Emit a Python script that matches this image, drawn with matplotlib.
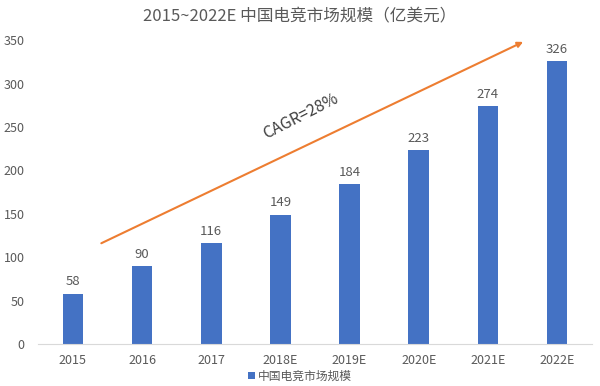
import matplotlib
matplotlib.use("Agg")
import matplotlib.pyplot as plt

plt.rcParams['font.family'] = ['Noto Sans CJK SC', 'DejaVu Sans']

categories = ["2015", "2016", "2017", "2018E", "2019E", "2020E", "2021E", "2022E"]
values = [58, 90, 116, 149, 184, 223, 274, 326]
title = "2015~2022E 中国电竞市场规模（亿美元）"
series_name = "中国电竞市场规模"
cagr_label = "CAGR=28%"

bar_color = "#4472C4"
arrow_color = "#ED7D31"
text_color = "#595959"

fig = plt.figure(figsize=(6, 3.86), dpi=100)
ax = fig.add_axes([0.064, 0.109, 0.922, 0.787])
x = list(range(len(categories)))
bars = ax.bar(x, values, width=0.3, color=bar_color, label=series_name, zorder=2)
for xi, v in zip(x, values):
    ax.text(xi, v + 6, str(v), ha='center', va='bottom', fontsize=9.5, color=text_color)

ax.set_xlim(-0.5, len(categories) - 0.5)
ax.set_ylim(0, 350)
ax.set_yticks(range(0, 351, 50))
ax.set_xticks(x)
ax.set_xticklabels(categories)
ax.tick_params(axis='both', length=0, labelsize=9, colors=text_color)
ax.tick_params(axis='x', pad=7)
ax.tick_params(axis='y', pad=10)
for s in ['top', 'right', 'left']:
    ax.spines[s].set_visible(False)
ax.spines['bottom'].set_color('#D9D9D9')

ax.annotate("", xy=(6.51, 348), xytext=(0.41, 116),
            arrowprops=dict(arrowstyle='-|>', color=arrow_color, lw=1.5,
                            mutation_scale=8, shrinkA=0, shrinkB=0),
            annotation_clip=False)
ax.text(3.29, 262, cagr_label, rotation=27, ha='center', va='center',
        fontsize=11.5, color='#404040')

fig.text(0.5, 0.955, title, ha='center', va='center', fontsize=12, color=text_color)
fig.legend(handles=[bars], labels=[series_name], loc='center', bbox_to_anchor=(0.5, 0.025),
           frameon=False, fontsize=8.5, handlelength=0.6, handleheight=0.6,
           handletextpad=0.3, labelcolor=text_color)

fig.savefig("out.png", dpi=100)
